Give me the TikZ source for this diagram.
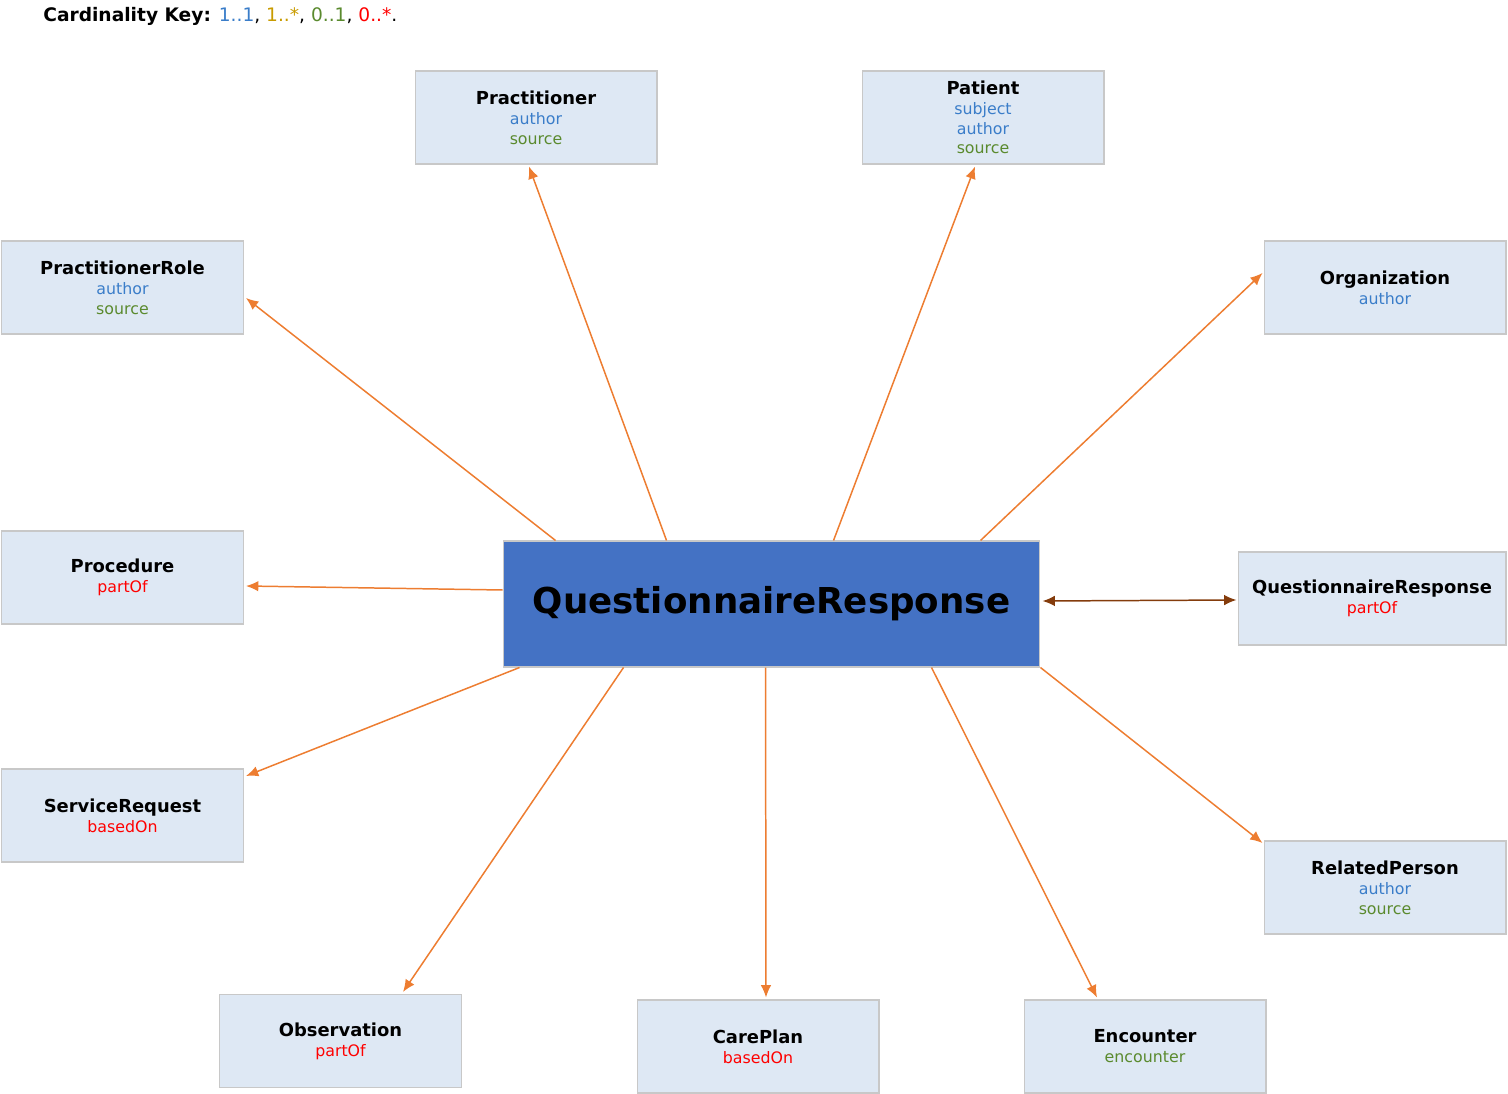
\documentclass[tikz,border=0pt]{standalone}
\usepackage{fontspec}
\setmainfont{DejaVu Sans}
\usepackage{tikz}
\usetikzlibrary{arrows.meta,positioning,calc}
\definecolor{boite}{HTML}{DEE8F4}
\definecolor{bord}{HTML}{C8C8C8}
\definecolor{centre}{HTML}{4472C4}
\definecolor{orange}{HTML}{ED7D31}
\definecolor{brun}{HTML}{843C0C}
\definecolor{unun}{HTML}{3A7DC9}
\definecolor{unn}{HTML}{C89B00}
\definecolor{zeroun}{HTML}{5A8A2E}
\definecolor{zeron}{HTML}{FF0000}

\begin{document}
\begin{tikzpicture}[x=0.02cm,y=-0.02cm]
\tikzstyle{fleche}=[-{Latex[length=7pt,width=6pt]},orange,line width=0.85pt]
\tikzstyle{double}=[{Latex[length=7pt,width=6pt]}-{Latex[length=7pt,width=6pt]},brun,line width=0.85pt]
\tikzstyle{boite}=[fill=boite,draw=bord,line width=0.6pt,inner sep=0pt,minimum width=4.84cm,minimum height=1.86cm,align=center,font=\fontsize{9}{11.3}\selectfont]
\tikzstyle{principal}=[fill=centre,draw=bord,line width=0.6pt,inner sep=0pt,minimum width=10.74cm,minimum height=2.52cm,font=\fontsize{20.3}{24}\selectfont\bfseries]
\def\Titre#1{{\fontsize{10.2}{11.3}\selectfont\bfseries #1}}
\useasboundingbox (0,0) rectangle (1508,1094);
\node[anchor=base west,inner sep=0pt,font=\fontsize{10.6}{12}\selectfont] (cle) at (43,22) {\textbf{Cardinality Key:} \textcolor{unun}{1..1}, \textcolor{unn}{1..*}, \textcolor{zeroun}{0..1}, \textcolor{zeron}{0..*}.};
\node[principal] (QR) at (771.5,604) {QuestionnaireResponse};
\node[boite] (Prac) at (536,117.5) {\Titre{Practitioner}\\\textcolor{unun}{author}\\\textcolor{zeroun}{source}};
\node[boite] (Pat) at (983,117.5) {\Titre{Patient}\\\textcolor{unun}{subject}\\\textcolor{unun}{author}\\\textcolor{zeroun}{source}};
\node[boite] (PracRole) at (122.5,287.5) {\Titre{PractitionerRole}\\\textcolor{unun}{author}\\\textcolor{zeroun}{source}};
\node[boite] (Org) at (1385,287.5) {\Titre{Organization}\\\textcolor{unun}{author}};
\node[boite] (Proc) at (122.5,577.5) {\Titre{Procedure}\\\textcolor{zeron}{partOf}};
\node[boite,minimum width=5.36cm] (QRb) at (1372,598.5) {\Titre{QuestionnaireResponse}\\\textcolor{zeron}{partOf}};
\node[boite] (ServReq) at (122.5,815.5) {\Titre{ServiceRequest}\\\textcolor{zeron}{basedOn}};
\node[boite] (RelPers) at (1385,887.5) {\Titre{RelatedPerson}\\\textcolor{unun}{author}\\\textcolor{zeroun}{source}};
\node[boite] (Obs) at (340.5,1041) {\Titre{Observation}\\\textcolor{zeron}{partOf}};
\node[boite] (Care) at (758,1046.5) {\Titre{CarePlan}\\\textcolor{zeron}{basedOn}};
\node[boite] (Enc) at (1145,1046.5) {\Titre{Encounter}\\\textcolor{zeroun}{encounter}};
\draw[fleche] ($(QR.north west)+(164,0)$)--($(Prac.south)+(-7,2)$);
\draw[fleche] ($(QR.north west)+(331,0)$)--($(Pat.south)+(-8,2)$);
\draw[fleche] ($(QR.north west)+(53,0)$)--($(PracRole.east)+(2,10.5)$);
\draw[fleche] ($(QR.north west)+(478,0)$)--($(Org.west)+(-1,-14.5)$);
\draw[fleche] ($(QR.west)+(0,-14)$)--($(Proc.east)+(2,8.5)$);
\draw[double] ($(QR.east)+(2,-3)$)--($(QRb.west)+(-1,1.5)$);
\draw[fleche] ($(QR.south west)+(17,0)$)--($(ServReq.east)+(2,-39.5)$);
\draw[fleche] ($(QR.south west)+(121,0)$)--($(Obs.north)+(62.5,-2)$);
\draw[fleche] ($(QR.south west)+(263,0)$)--($(Care.north)+(8,-2)$);
\draw[fleche] ($(QR.south west)+(429,0)$)--($(Enc.north)+(-48,-2)$);
\draw[fleche] (QR.south east)--($(RelPers.west)+(-1,-44.5)$);
\end{tikzpicture}
\end{document}
